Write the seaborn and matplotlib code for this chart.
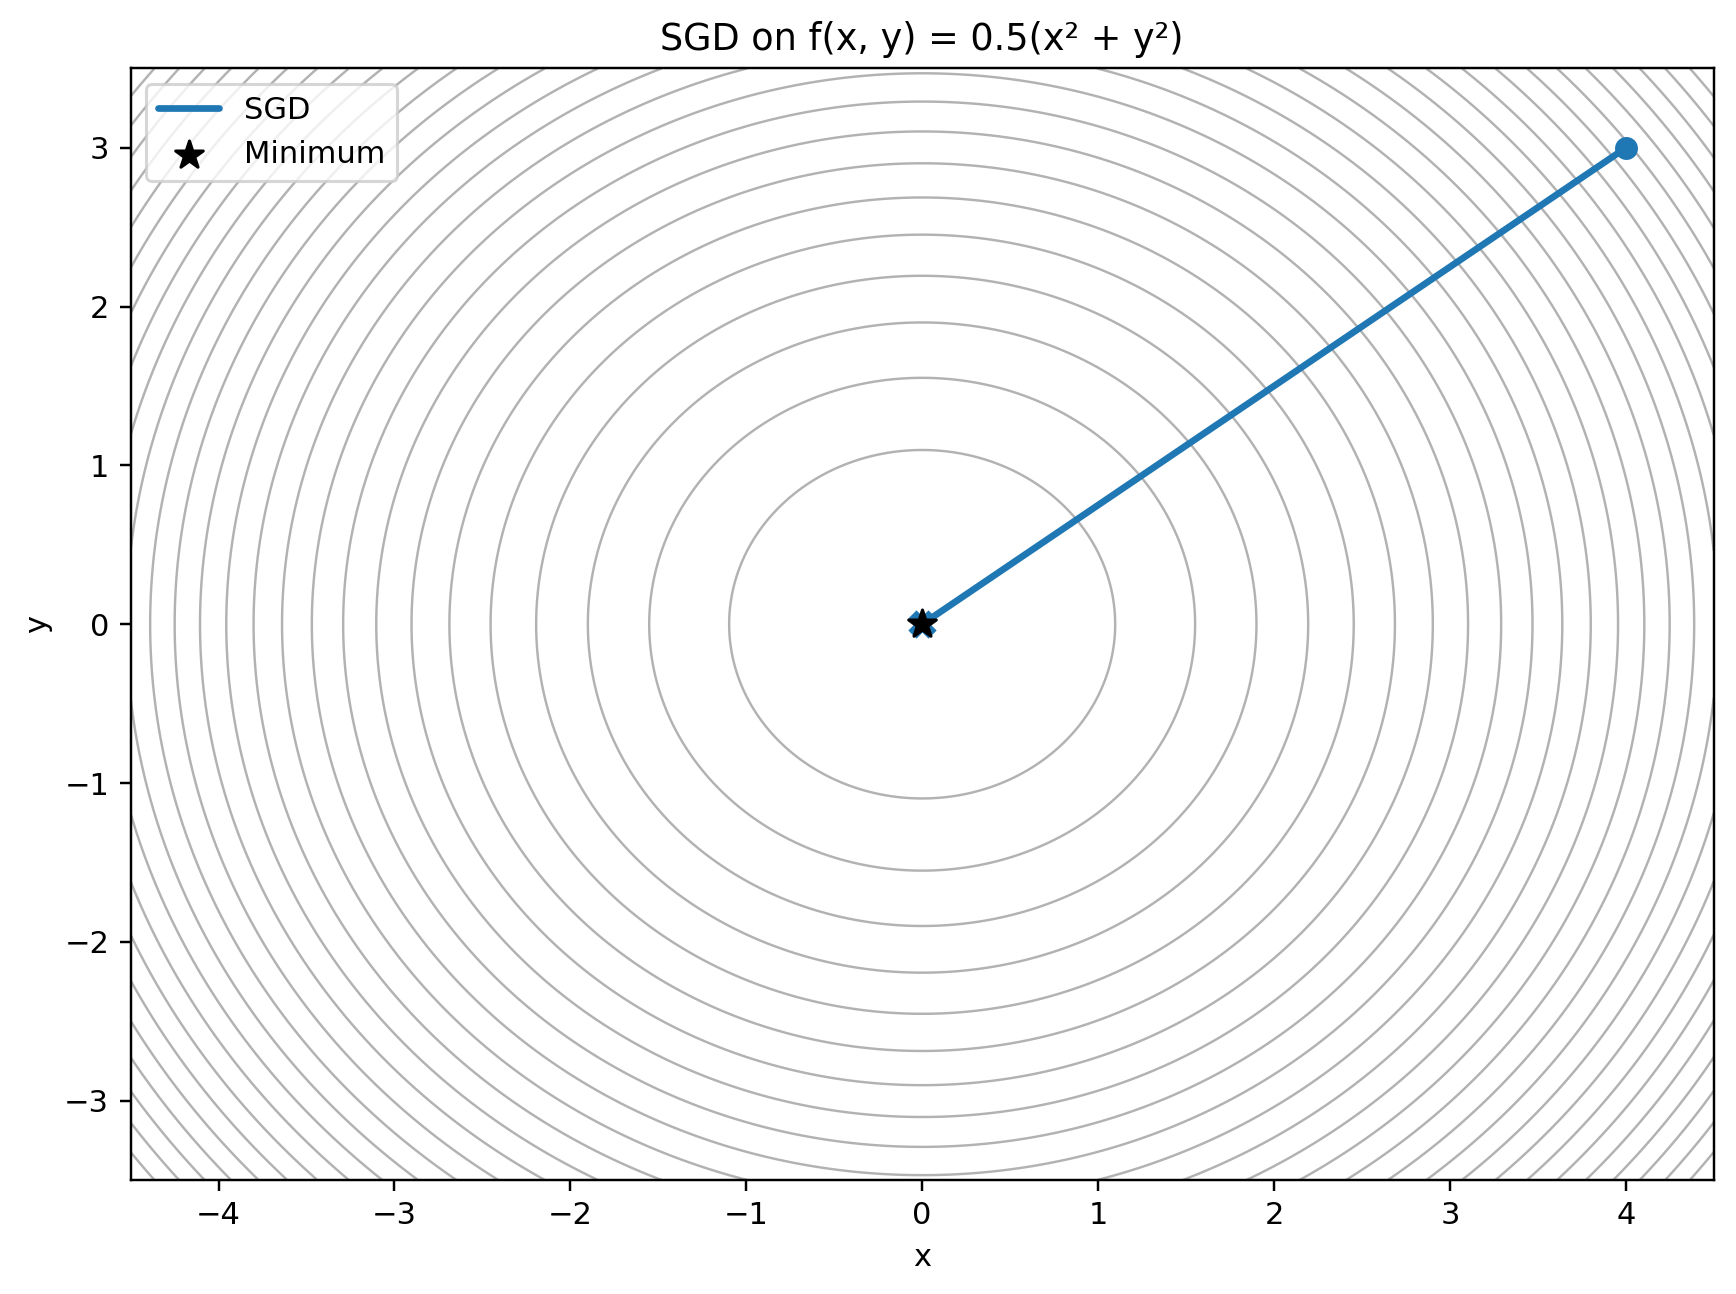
import numpy as np
import pandas as pd
import matplotlib
matplotlib.use("Agg")
import matplotlib.pyplot as plt
import seaborn as sns

# Data
path_x = [4.0, 0.0]
path_y = [3.0, 0.0]
min_x = [0.0]
min_y = [0.0]
x_range = [-4.5, 4.5]
y_range = [-3.5, 3.5]
n_levels = 28

sns.set_style("ticks")
plt.rcParams['font.family'] = ['DejaVu Sans']
for k in ['axes.edgecolor', 'xtick.color', 'ytick.color', 'text.color', 'axes.labelcolor']:
    plt.rcParams[k] = 'black'

DPI = 220
fig = plt.figure(figsize=(1736 / DPI, 1294 / DPI), dpi=DPI)
ax = fig.add_axes([0.0752, 0.0881, 0.912, 0.859])

gx = np.linspace(x_range[0], x_range[1], 400)
gy = np.linspace(y_range[0], y_range[1], 400)
X, Y = np.meshgrid(gx, gy)
Z = 0.5 * (X**2 + Y**2)
levels = np.linspace(Z.min(), Z.max(), n_levels)
ax.contour(X, Y, Z, levels=levels, colors='gray', alpha=0.6, linewidths=0.8)

df = pd.DataFrame({"x": path_x, "y": path_y})
sns.lineplot(data=df, x="x", y="y", sort=False, ax=ax, color="#1f77b4",
             linewidth=2.2, label="SGD")
ax.plot(path_x[0], path_y[0], 'o', color="#1f77b4", markersize=6.5)
ax.plot(path_x[-1], path_y[-1], 'X', color="#1f77b4", markersize=8)
ax.scatter(min_x, min_y, marker='*', color='black', s=90, zorder=5, label="Minimum")

ax.set_xlim(x_range)
ax.set_ylim(y_range)
ax.set_xlabel("x")
ax.set_ylabel("y")
ax.set_title("SGD on f(x, y) = 0.5(x² + y²)")
ax.legend(loc="upper left")

fig.savefig("out.png", dpi=DPI)
